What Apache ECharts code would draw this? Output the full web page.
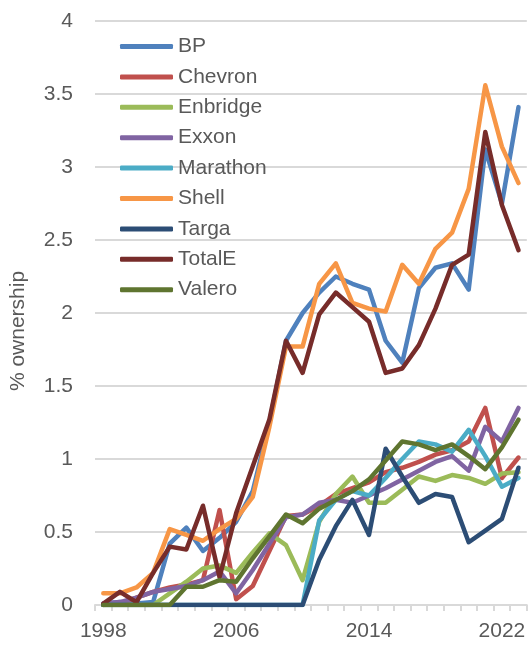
<!DOCTYPE html>
<html>
<head>
<meta charset="utf-8">
<script src="https://cdn.jsdelivr.net/npm/echarts@6/dist/echarts.min.js"></script>
<style>
  html, body { margin: 0; padding: 0; background: #fff; }
  #lineChart { width: 528px; height: 646px; }
</style>
</head>
<body>
<div id="lineChart"></div>
<script>
// years 1998..2023
var years = [];
for (var y = 1998; y <= 2023; y++) years.push(String(y));

var seriesNames = ["BP", "Chevron", "Enbridge", "Exxon", "Marathon", "Shell", "Targa", "TotalE", "Valero"];
var colors = ["#4F81BD", "#C0504D", "#9BBB59", "#8064A2", "#4BACC6", "#F79646", "#2C4D75", "#772C2A", "#5F7530"];

var bp = [0.01, 0.02, 0.01, 0.02, 0.42, 0.53, 0.37, 0.46, 0.57, 0.78, 1.25, 1.81, 2.0, 2.14, 2.25, 2.2, 2.16, 1.81, 1.66, 2.17, 2.31, 2.34, 2.16, 3.12, 2.75, 3.41];
var chevron = [0.0, 0.01, 0.05, 0.09, 0.12, 0.14, 0.17, 0.65, 0.04, 0.13, 0.37, 0.61, 0.62, 0.68, 0.76, 0.8, 0.84, 0.91, 0.94, 0.98, 1.03, 1.06, 1.12, 1.35, 0.87, 1.01];
var enbridge = [0, 0, 0, 0, 0.08, 0.16, 0.25, 0.27, 0.22, 0.36, 0.49, 0.41, 0.17, 0.57, 0.76, 0.88, 0.7, 0.7, 0.79, 0.88, 0.85, 0.89, 0.87, 0.83, 0.9, 0.91];
var exxon = [0.01, 0.02, 0.05, 0.09, 0.11, 0.13, 0.17, 0.23, 0.08, 0.24, 0.42, 0.6, 0.62, 0.7, 0.72, 0.7, 0.75, 0.8, 0.86, 0.92, 0.98, 1.02, 0.92, 1.22, 1.12, 1.35];
var marathon = [0, 0, 0, 0, 0, 0, 0, 0, 0, 0, 0, 0, 0, 0.58, 0.72, 0.78, 0.75, 0.87, 1.0, 1.12, 1.1, 1.05, 1.2, 1.02, 0.81, 0.87];
var shell = [0.08, 0.08, 0.12, 0.22, 0.52, 0.48, 0.44, 0.52, 0.59, 0.74, 1.22, 1.77, 1.77, 2.2, 2.34, 2.07, 2.03, 2.01, 2.33, 2.2, 2.44, 2.55, 2.85, 3.56, 3.14, 2.89];
var targa = [0, 0, 0, 0, 0, 0, 0, 0, 0, 0, 0, 0, 0, 0.31, 0.54, 0.72, 0.48, 1.07, 0.88, 0.7, 0.76, 0.74, 0.43, 0.51, 0.59, 0.94];
var totalE = [0.01, 0.09, 0.02, 0.22, 0.4, 0.38, 0.68, 0.19, 0.63, 0.95, 1.27, 1.81, 1.59, 1.99, 2.14, 2.04, 1.94, 1.59, 1.62, 1.78, 2.03, 2.33, 2.4, 3.24, 2.74, 2.43];
var valero = [0, 0, 0, 0, 0, 0.125, 0.125, 0.17, 0.16, 0.32, 0.47, 0.62, 0.56, 0.66, 0.72, 0.78, 0.86, 0.99, 1.12, 1.1, 1.06, 1.1, 1.02, 0.93, 1.08, 1.27];

var allData = [bp, chevron, enbridge, exxon, marathon, shell, targa, totalE, valero];

var fontFam = "Liberation Sans, Arial, sans-serif";
var chart = echarts.init(document.getElementById("lineChart"));

var series = seriesNames.map(function (name, i) {
  return {
    name: name,
    type: "line",
    data: allData[i],
    symbol: "none",
    smooth: false,
    lineStyle: { width: 4.5, color: colors[i], cap: "round", join: "round" },
    itemStyle: { color: colors[i] },
  };
});

var option = {
  animation: false,
  grid: { left: 91, right: 0, top: 21, bottom: 41 },
  legend: {
    orient: "vertical",
    left: 115,
    top: 31,
    icon: "roundRect",
    itemWidth: 53,
    itemHeight: 5,
    itemGap: 9.4,
    textStyle: { fontFamily: fontFam, fontSize: 21, color: "#595959", lineHeight: 20 },
    data: seriesNames,
  },
  xAxis: {
    type: "category",
    data: years,
    boundaryGap: true,
    axisLine: { lineStyle: { color: "#d9d9d9", width: 2 } },
    axisTick: { show: true, interval: 0, length: 6, lineStyle: { color: "#d9d9d9", width: 2 } },
    axisLabel: { interval: 7, margin: 16, fontFamily: fontFam, fontSize: 21, color: "#595959" },
    splitLine: { show: false },
  },
  yAxis: {
    type: "value",
    min: 0,
    max: 4,
    interval: 0.5,
    name: "% ownership",
    nameLocation: "middle",
    nameGap: 66,
    nameRotate: 90,
    nameTextStyle: { fontFamily: fontFam, fontSize: 21, color: "#595959", padding: [0, 36, 0, 0] },
    axisLine: { show: false },
    axisTick: { show: false },
    axisLabel: { margin: 22, fontFamily: fontFam, fontSize: 21, color: "#595959" },
    splitLine: { lineStyle: { color: "#d9d9d9", width: 2 } },
  },
  series: series,
};

chart.setOption(option);
</script>
</body>
</html>
